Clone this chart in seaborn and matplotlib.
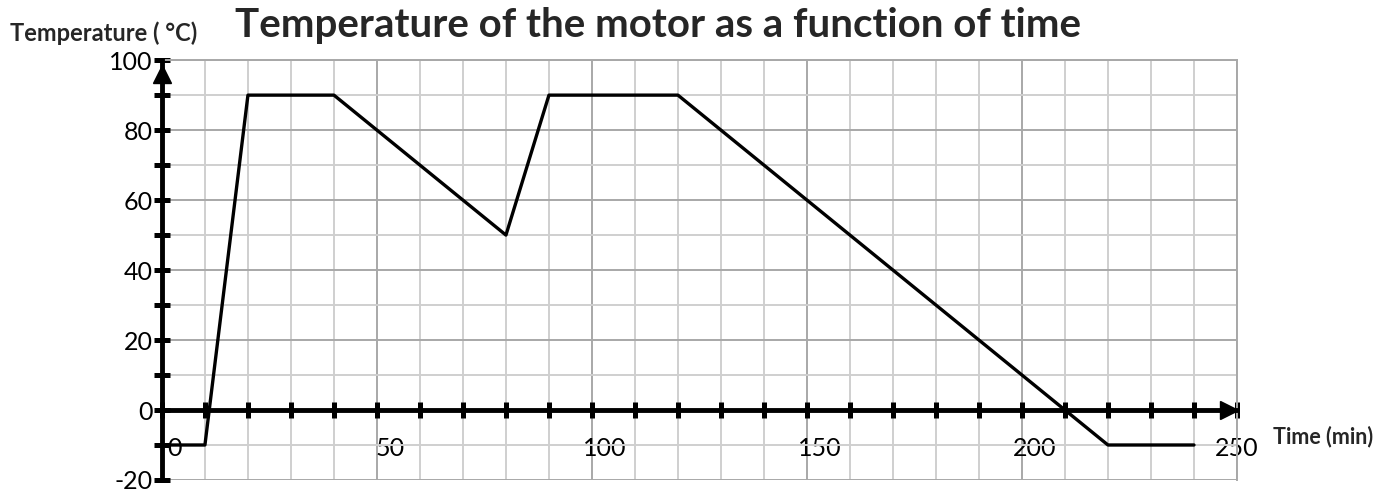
import pandas as pd
import seaborn as sns
import matplotlib.pyplot as plt
from matplotlib.ticker import MultipleLocator
from matplotlib.transforms import ScaledTranslation

# data
time_min = [0, 10, 20, 40, 80, 90, 120, 220, 240]
temp_c = [-10, -10, 90, 90, 50, 90, 90, -10, -10]

sns.set_theme(style="white")
plt.rcParams['font.family'] = ['Lato', 'DejaVu Sans']
plt.rcParams['axes.unicode_minus'] = False

df = pd.DataFrame({"Time (min)": time_min, "Temperature": temp_c})

fig = plt.figure(figsize=(13.9, 4.93), dpi=100)
ax = fig.add_axes([0.1165, 0.0264, 0.7734, 0.8516])

sns.lineplot(data=df, x="Time (min)", y="Temperature", sort=False,
             estimator=None, color="black", linewidth=2.4, ax=ax, zorder=5)

ax.set_xlim(0, 250)
ax.set_ylim(-20, 100)
ax.xaxis.set_major_locator(MultipleLocator(50))
ax.xaxis.set_minor_locator(MultipleLocator(10))
ax.yaxis.set_major_locator(MultipleLocator(20))
ax.yaxis.set_minor_locator(MultipleLocator(10))

# grid paper
ax.grid(which="major", color="#a8a8a8", linewidth=1.4)
ax.grid(which="minor", color="#cfcfcf", linewidth=1.4)
ax.set_axisbelow(True)

# axes through the origin
ax.spines["bottom"].set_position(("data", 0))
for side in ["bottom", "left"]:
    ax.spines[side].set_linewidth(3.5)
    ax.spines[side].set_color("black")
    ax.spines[side].set_zorder(4)
for side in ["top", "right"]:
    ax.spines[side].set_color("#a8a8a8")
    ax.spines[side].set_linewidth(1.4)

ax.tick_params(which="both", bottom=True, left=True, direction="inout",
               color="black", width=3.6, length=11, labelsize=18,
               labelcolor="black")
ax.tick_params(axis="x", which="major", pad=14)
ax.tick_params(axis="y", which="major", pad=1)

# x labels sit a little to the right of their tick (except the last one)
shift = ScaledTranslation(13 / 100, 0, fig.dpi_scale_trans)
for t, lab in zip(ax.get_xticks(), ax.get_xticklabels()):
    if t < 250:
        lab.set_transform(lab.get_transform() + shift)

# arrow heads
ax.plot(0.993, 0, ">", color="black", markersize=13, clip_on=False,
        transform=ax.get_yaxis_transform(), zorder=6)
ax.plot(0, 0.967, "^", color="black", markersize=13, clip_on=False,
        transform=ax.get_xaxis_transform(), zorder=6)

ax.set_xlabel("")
ax.set_ylabel("")
fig.text(0.007, 0.933, "Temperature ( °C)", fontsize=17, fontweight="bold",
         ha="left", va="center")
fig.text(0.916, 0.114, "Time (min)", fontsize=15.5, fontweight="bold",
         ha="left", va="center")
fig.text(0.4735, 0.948, "Temperature of the motor as a function of time",
         fontsize=29, fontweight="bold", ha="center", va="center")

plt.savefig("out.png", dpi=100)
